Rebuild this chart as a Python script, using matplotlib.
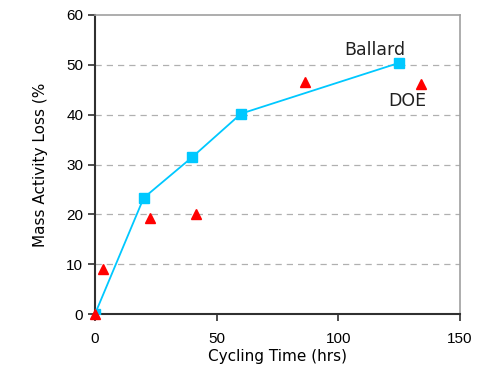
import matplotlib.pyplot as plt

plt.rcParams['font.family'] = ['Liberation Sans', 'DejaVu Sans']

# Ballard series (connected squares)
ballard_t = [0, 20, 40, 60, 125]
ballard_loss = [0, 23.3, 31.5, 40.2, 50.4]

# DOE series (red triangles)
doe_t = [0, 3.2, 22.6, 41.7, 86.4, 134]
doe_loss = [0, 9.0, 19.2, 20.1, 46.6, 46.1]

fig = plt.figure(figsize=(4.91, 3.71), dpi=100)
ax = fig.add_axes([0.1935, 0.1536, 0.7435, 0.806])

for y in [10, 20, 30, 40, 50]:
    ax.axhline(y, color='#b0b0b0', linestyle=(0, (5, 4)), linewidth=0.9, zorder=0)

ax.plot(ballard_t, ballard_loss, color='#00c8ff', linewidth=1.3,
        marker='s', markersize=7, markeredgecolor='#00c8ff', zorder=3)
ax.plot(doe_t, doe_loss, linestyle='none', color='#ff0000',
        marker='^', markersize=7, zorder=4, clip_on=False)

ax.set_xlim(0, 150)
ax.set_ylim(0, 60)
ax.set_xticks([0, 50, 100, 150])
ax.set_yticks([0, 10, 20, 30, 40, 50, 60])

for side in ['top', 'right']:
    ax.spines[side].set_color('#a0a0a0')
    ax.spines[side].set_linewidth(1.2)
for side in ['left', 'bottom']:
    ax.spines[side].set_color('#303030')
    ax.spines[side].set_linewidth(1.5)

ax.tick_params(axis='both', direction='out', length=5, width=1.2,
               color='#303030', labelsize=11)
ax.tick_params(axis='x', pad=8)

ax.set_xlabel('Cycling Time (hrs)', fontsize=11, labelpad=2, family='DejaVu Sans')
ax.set_ylabel('Mass Activity Loss (%', fontsize=11, labelpad=13, family='DejaVu Sans')

ax.text(102.5, 52.0, 'Ballard', fontsize=12.5, color='#202020', family='DejaVu Sans')
ax.text(120.5, 41.8, 'DOE', fontsize=12.5, color='#202020', family='DejaVu Sans')

fig.savefig('out.png', dpi=100)
